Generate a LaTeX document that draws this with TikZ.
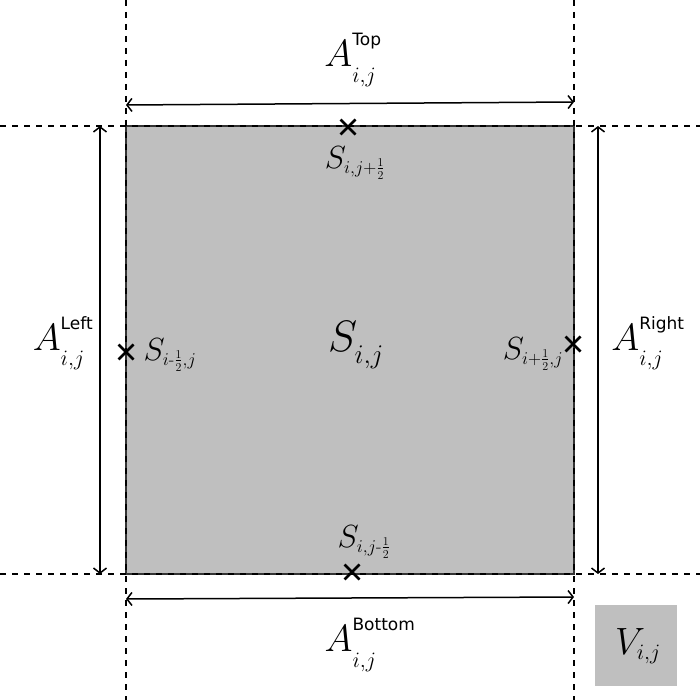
\RequirePackage{fix-cm}
\documentclass[tikz,border=0pt]{standalone}
\usepackage{fontspec}
\setsansfont{DejaVu Sans}
\usepackage{amsmath}
\usetikzlibrary{arrows.meta}
\DeclareMathSizes{38}{38}{22}{15}
\DeclareMathSizes{44}{44}{27}{18}
\DeclareMathSizes{32}{32}{18}{12}
\newcommand{\suptxt}[1]{\raisebox{7pt}{\fontsize{17}{20}\selectfont\sffamily #1}}
\newcommand{\subtxt}[1]{\raisebox{-6pt}{$\scriptstyle #1$}}
\begin{document}
\begin{tikzpicture}[x=1pt,y=-1pt,
  dashline/.style={black,line width=1.1pt,dash pattern=on 6pt off 6pt},
  dimarrow/.style={{Straight Barb[length=5pt,width=13pt]}-{Straight Barb[length=5pt,width=13pt]},black,line width=1.5pt},
  crossmark/.style={black,line width=2.8pt},
  biglabel/.style={inner sep=0pt,font=\fontsize{38}{44}\selectfont},
  slabel/.style={inner sep=0pt,font=\fontsize{32}{38}\selectfont},
  cellfill/.style={fill=black!25}]
\useasboundingbox (0,0) rectangle (700,700);
% cell
\filldraw[cellfill,draw=black!80,line width=1.2pt] (126,126) rectangle (574,574);
\fill[cellfill] (595,605) rectangle (677,686);
% dashed grid
\draw[dashline] (126,0) -- (126,700);
\draw[dashline] (574,0) -- (574,700);
\draw[dashline] (0,126) -- (700,126);
\draw[dashline] (0,574) -- (700,574);
% coordinates
\coordinate (tl) at (126,105); \coordinate (tr) at (574,102);
\coordinate (bl) at (126,599); \coordinate (br) at (574,597);
\coordinate (lt) at (100,126); \coordinate (lb) at (100,574);
\coordinate (rt) at (598,126); \coordinate (rb) at (598,574);
\draw[dimarrow] (tl) -- (tr);
\draw[dimarrow] (bl) -- (br);
\draw[dimarrow] (lt) -- (lb);
\draw[dimarrow] (rt) -- (rb);
% crosses
\foreach \n/\x/\y in {ct/348/127,cl/126/352,cr/573/344,cb/352/572}{
  \coordinate (\n) at (\x,\y);
  \draw[crossmark] ([shift={(-7.5,-7.5)}]\n) -- ([shift={(7.5,7.5)}]\n);
  \draw[crossmark] ([shift={(-7.5,7.5)}]\n) -- ([shift={(7.5,-7.5)}]\n);
}
% labels
\node[biglabel] (atop) at (353,60) {$A^{\suptxt{Top}}_{\subtxt{i,j}}$};
\node[biglabel] (aleft) at (63,343) {$A^{\suptxt{Left}}_{\subtxt{i,j}}$};
\node[biglabel] (aright) at (648,343) {$A^{\suptxt{Right}}_{\subtxt{i,j}}$};
\node[biglabel] (abot) at (370,645) {$A^{\suptxt{Bottom}}_{\subtxt{i,j}}$};
\node[inner sep=0pt,font=\fontsize{44}{50}\selectfont] (sc) at (356,345) {$S_{\subtxt{i,j}}$};
\node[biglabel] (vv) at (638,646) {$V_{i,j}$};
\node[slabel] (st) at (355,163) {$S_{i,j+\frac{1}{2}}$};
\node[slabel] (sl) at (170,355) {$S_{i\text{-}\frac{1}{2},j}$};
\node[slabel] (sr) at (533,354) {$S_{i+\frac{1}{2},j}$};
\node[slabel] (sb) at (364,542) {$S_{i,j\text{-}\frac{1}{2}}$};
\end{tikzpicture}
\end{document}
